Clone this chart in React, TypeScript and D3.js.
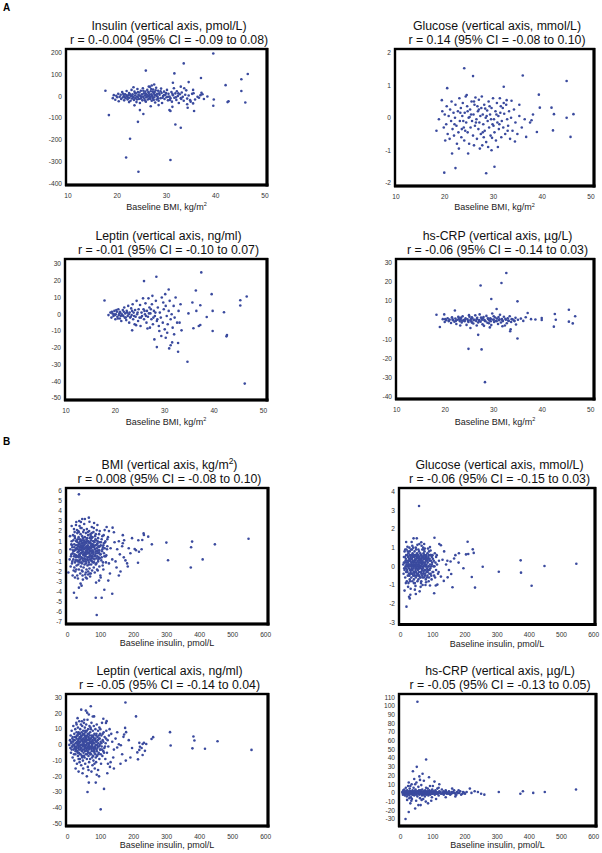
import React from "react";
import * as d3 from "d3";

type Pt = [number, number];

// ---------- tick labels ----------
const bmiTicks = [10, 20, 30, 40, 50];
const insulinTicks = [0, 100, 200, 300, 400, 500, 600];
const a1YTicks = [200, 100, 0, -100, -200, -300, -400];
const a2YTicks = [2, 1, 0, -1, -2];
const a3YTicks = [30, 20, 10, 0, -10, -20, -30, -40, -50];
const a4YTicks = [30, 20, 10, 0, -10, -20, -30, -40];
const b1YTicks = [6, 5, 4, 3, 2, 1, 0, -1, -2, -3, -4, -5, -6, -7];
const b2YTicks = [4, 3, 2, 1, 0, -1, -2, -3];
const b3YTicks = [30, 20, 10, 0, -10, -20, -30, -40, -50];
const b4YTicks = [110, 100, 90, 80, 70, 60, 50, 40, 30, 20, 10, 0, -10, -20, -30];

// ---------- data: [x, y] ----------
// A1: baseline BMI vs insulin change
const a1Points: Pt[] = [
  [17.6,26],[18.3,-86],[21.8,-281],[22.6,-195],[24.2,-117],[24.3,-347],[25.8,119],[30.8,-293],[31.6,106],[31.8,-129],[32.9,-144],[33.5,152],[34.5,66],[37.0,85],[39.5,198],[39.5,-43],[39.6,-14],[42.0,52],[42.4,-26],[42.6,-22],[45.2,79],[45.2,25],[46.0,-28],[46.5,103],[38.3,0],[35.4,30],[35.5,15],[36.9,6],[36.6,-6],[37.1,17],[35.4,-32],[35.6,-67],[34.3,-52],[34.8,-17],[31.3,63],[30.6,-63],[30.8,-67],[23.5,-41],[24.6,-63],[25.3,-81],[22.4,-26],[32.9,45],[33.6,38],[31.2,-48],[28.4,-40],[26.8,-45],[34.2,-36],
  [19.1,-8],[19.3,6],[19.6,-15],[19.8,3],[20.0,-4],[20.2,12],[20.3,-22],[20.5,-2],[20.7,8],[20.8,-12],[21.0,20],[21.1,-5],[21.3,2],[21.4,-18],[21.6,10],[21.7,-8],[21.9,25],[22.0,0],[22.1,-14],[22.3,6],[22.4,16],[22.5,-6],[22.7,-20],[22.8,2],[22.9,30],[23.0,-10],[23.1,10],[23.2,-2],[23.3,42],[23.4,-16],[23.5,22],[23.6,4],[23.7,-8],[23.8,14],[23.9,-26],[24.0,0],[24.1,34],[24.2,-4],[24.3,8],[24.4,-12],[24.5,18],[24.6,-30],[24.7,2],[24.8,26],[24.9,-6],[25.0,10],[25.1,-18],[25.2,38],[25.3,-2],[25.4,14],[25.5,-10],[25.6,4],[25.7,22],[25.8,-24],[25.9,-4],[26.0,8],[26.1,30],[26.2,-14],[26.3,2],[26.4,16],[26.5,-8],[26.6,44],[26.7,-2],[26.8,24],[26.9,10],[27.0,-20],[27.0,50],[27.1,4],[27.2,-10],[27.3,32],[27.4,14],[27.5,-4],[27.6,20],[27.7,-28],[27.8,6],[27.9,40],[28.0,-14],[28.1,12],[28.2,-2],[28.3,26],[28.4,-20],[28.6,8],[28.8,-8],[29.0,16],[29.1,-30],[29.3,2],[29.5,22],[29.6,-12],[29.8,8],[30.0,-4],[30.1,30],[30.3,-18],[30.4,12],[30.6,0],[30.8,-8],[31.0,20],[31.1,-24],[31.3,6],[31.5,38],[31.6,-6],[31.8,14],[32.0,-16],[32.1,24],[32.3,2],[32.5,-30],[32.7,10],[32.9,-8],[33.1,18],[33.3,-2],[33.5,-20],[33.8,8],[34.0,28],[34.2,-10],[34.5,4],[34.9,-24],[35.2,12],[35.8,-14],[36.3,-2],[37.3,10],[37.6,-12]
];
const a1Core: Pt[] = [
  [21.2,12],[21.5,-2],[21.9,5],[22.2,-6],[22.6,10],[23.0,2],[23.3,-5],[23.6,16],[24.0,-14],[24.2,20],[24.5,4],[24.8,-10],[25.0,0],[25.3,26],[25.6,-18],[25.8,12],[26.0,-2],[26.3,20],[26.5,6],[26.7,-12],[26.9,34],[27.1,-2],[27.2,22],[27.4,-16],[27.6,8],[27.8,28],[28.0,2],[28.3,-10],[28.5,14],[28.8,24],[29.2,-6],[29.5,6],[29.9,16],[30.3,-2],[30.7,-16],[31.2,12],[31.9,-4],[32.4,14],[33.0,-12],[26.4,46],[27.5,55],[28.9,36]
];

// A2: baseline BMI vs glucose change
const a2Points: Pt[] = [
  [24.0,1.52],[25.8,1.28],[20.5,0.91],[36.0,1.30],[32.1,0.95],[39.3,0.71],[39.5,0.31],[41.9,0.31],[42.4,0.11],[45.0,1.13],[45.0,0.0],[46.4,0.11],[45.8,-0.59],[42.2,-0.39],[38.9,-0.44],[36.7,-0.59],[18.3,-0.4],[19.4,0.54],[21.5,-1.1],[24.8,-1.1],[19.9,-1.69],[22.2,-1.55],[28.5,-1.71],[30.2,-1.51],[29.6,-1.0],[34.4,-0.73],[36.4,-0.05],[37.8,-0.08],[38.1,0.1],[35.3,0.4],[33.7,0.52],[32.7,0.54],[37.5,-0.15],[18.8,-0.05],
  [19.5,0.2],[19.8,-0.3],[20.0,0.1],[20.1,-0.7],[20.3,-0.2],[20.4,0.35],[20.6,-0.5],[20.8,0.05],[21.0,-0.65],[21.1,0.25],[21.3,-0.1],[21.4,0.5],[21.6,-0.35],[21.8,0.15],[21.9,-0.55],[22.1,0.0],[22.2,0.4],[22.4,-0.25],[22.5,-0.8],[22.7,0.2],[22.8,-0.45],[23.0,0.6],[23.1,-0.1],[23.3,0.3],[23.4,-0.6],[23.6,0.05],[23.7,0.45],[23.9,-0.3],[24.0,-0.7],[24.1,0.15],[24.3,0.65],[24.4,-0.15],[24.6,0.35],[24.7,-0.45],[24.9,0.0],[25.0,-0.8],[25.2,0.25],[25.3,-0.3],[25.5,0.5],[25.6,-0.1],[25.8,-0.55],[25.9,0.1],[26.1,0.4],[26.2,-0.25],[26.3,0.62],[26.5,-0.05],[26.6,-0.65],[26.8,0.2],[26.9,-0.35],[27.0,0.55],[27.1,-0.15],[27.3,0.05],[27.4,-0.5],[27.5,0.3],[27.7,-0.85],[27.8,0.1],[27.9,-0.2],[28.1,0.4],[28.2,-0.4],[28.4,0.0],[28.5,-0.75],[28.7,0.22],[28.8,-0.1],[29.0,0.5],[29.1,-0.3],[29.3,0.1],[29.4,-0.55],[29.6,0.3],[29.8,-0.2],[29.9,0.6],[30.1,-0.05],[30.2,-0.45],[30.4,0.2],[30.5,-0.7],[30.7,0.45],[30.8,-0.15],[31.0,0.05],[31.1,-0.35],[31.3,0.6],[31.4,0.15],[31.6,-0.6],[31.7,-0.1],[31.9,0.3],[32.0,-0.3],[32.2,0.12],[32.4,-0.5],[32.6,0.4],[32.8,-0.05],[33.0,-0.25],[33.2,0.2],[33.4,-0.65],[33.6,0.0],[33.9,-0.4],[34.2,0.25],[34.5,-0.15],[34.9,-0.5],[35.3,0.05],[35.8,-0.3],[26.0,-0.85],[27.2,-0.95],[28.9,-0.9],[24.5,0.7],[22.9,-0.95],[30.9,-0.9],[27.6,0.65],[25.1,0.02],[26.7,0.35],[28.3,0.28],[23.5,-0.35],[29.7,-0.62]
];
const a2Core: Pt[] = [
  [22.0,-0.2],[23.2,0.15],[24.2,-0.4],[25.4,0.1],[26.4,-0.15],[27.0,0.25],[27.8,-0.45],[28.6,0.05],[29.2,0.35],[30.0,-0.25],[30.6,0.1],[31.2,-0.2],[32.1,0.45],[32.9,-0.4],[26.0,0.5],[28.0,-0.6],[29.5,-0.05],[31.5,0.35],[24.7,0.2],[23.8,-0.1]
];

// A3: baseline BMI vs leptin change
const a3Points: Pt[] = [
  [17.8,8.2],[25.8,19.8],[28.3,22.4],[37.4,25],[36.3,14.2],[30.8,14.8],[39.5,12],[42.0,1.2],[45.3,8.4],[45.3,5.2],[46.6,10.6],[39.7,2],[39.7,-10],[42.6,-12.4],[42.5,-13.2],[27.9,-15],[28.4,-19.6],[30.9,-20.4],[31.5,-16.8],[32.7,-17.2],[32.7,-22.4],[34.6,-28.4],[29.3,-13],[33.4,-9.6],[37.2,-6.4],[36.9,-7],[35.8,-8.4],[38.5,-1.6],[36.4,2],[37.2,5.4],[35.6,7],[23.4,-9.6],[46.2,-41.4],[31.2,-18.5],[30.2,-14],[33.0,-5],[34.8,0.5],
  [18.6,-0.5],[19.0,1],[19.2,-2],[19.4,0.5],[19.6,-1],[19.8,2],[20.0,-3],[20.1,0],[20.3,1.5],[20.4,-1.5],[20.6,3],[20.7,-0.5],[20.9,-2.5],[21.0,1],[21.2,-4],[21.3,0],[21.5,2.5],[21.6,-1],[21.8,4],[21.9,-2],[22.0,0.5],[22.2,-3.5],[22.3,2],[22.5,-1],[22.6,5],[22.8,-5],[22.9,1],[23.0,-2],[23.2,3.5],[23.3,-0.5],[23.5,6],[23.6,-3],[23.7,1],[23.9,-6],[24.0,2.5],[24.1,-1.5],[24.3,8],[24.4,0],[24.6,-4],[24.7,3],[24.9,-2],[25.0,5.5],[25.1,-7],[25.3,1],[25.4,-1],[25.6,9.5],[25.7,3],[25.8,-3],[26.0,0],[26.1,6.5],[26.3,-5],[26.4,2],[26.6,-1.5],[26.7,9.5],[26.9,4],[27.0,-8],[27.1,0.5],[27.3,-3],[27.4,6],[27.6,-6],[27.8,2],[28.0,-1],[28.2,8],[28.4,-4],[28.6,4],[28.8,-7],[29.0,1],[29.2,-2],[29.4,10],[29.6,-5],[29.8,3],[30.0,-9],[30.2,5],[30.4,-1],[30.6,-6],[30.8,2],[31.0,8],[31.2,-3],[31.4,0],[31.6,-8],[31.8,5],[32.0,-2],[32.2,10],[32.5,-5],[32.8,2],[33.2,6],[28.9,-10],[30.5,-11],[31.9,-12],[26.5,-8.5],[24.2,-6.5],[29.7,7],[27.5,11],[30.1,12],[20.5,-2.5],[21.4,-0.5],[22.4,1],[23.1,-1.5],[19.7,0],[20.9,1.5]
];
const a3Core: Pt[] = [
  [19.3,1.5],[19.9,-0.5],[20.2,2.5],[20.8,0.5],[21.1,-1],[21.7,1.5],[22.1,-2],[22.7,0],[23.4,2],[23.8,-1],[24.5,1],[25.2,-2],[25.9,2],[26.2,-1],[26.8,0.5],[27.2,3],[27.7,-2],[28.1,1],[28.5,-3]
];

// A4: baseline BMI vs hs-CRP change
const a4Points: Pt[] = [
  [18.2,2.8],[18.9,-3.6],[19.8,3.0],[22.0,5.0],[27.3,18.1],[31.6,19.4],[32.6,24.6],[29.5,11],[30.6,5.8],[34.9,9.8],[34.9,-9.6],[26.8,-7.7],[24.8,-15],[27.5,-15.3],[33.4,-5.8],[33.5,-4.8],[25.2,-4.1],[37.0,3.7],[36.6,1.5],[39.9,1.1],[39.9,0.1],[42.6,3.2],[42.8,0.2],[42.4,-3.4],[45.5,5.4],[45.5,-0.8],[46.3,-1.7],[46.8,2.0],[37.7,0.5],[38.6,0.3],[28.2,-32.4],[35.6,0.8],[34.6,-2.3],[36.1,-0.4],
  [19.5,0.5],[19.9,-1],[20.2,0],[20.5,1],[20.7,-0.5],[20.9,0.3],[21.2,-1.5],[21.4,1.5],[21.6,0],[21.9,-0.8],[22.1,0.8],[22.3,-2],[22.5,0.2],[22.8,1.2],[23.0,-0.5],[23.2,0.6],[23.4,-1.2],[23.6,2],[23.8,0],[24.0,-0.6],[24.2,1],[24.4,-2.5],[24.6,0.4],[24.8,-1],[25.0,1.8],[25.2,0],[25.4,-0.7],[25.6,0.9],[25.8,-1.8],[26.0,0.2],[26.2,2.5],[26.4,-0.4],[26.6,1.2],[26.8,-1.2],[27.0,0.1],[27.1,3],[27.3,-0.8],[27.5,0.7],[27.7,-2.2],[27.9,1.6],[28.1,0],[28.3,-0.6],[28.5,2.2],[28.7,-1.4],[28.9,0.5],[29.1,-0.2],[29.3,1],[29.5,-2.6],[29.7,3.5],[29.9,0.3],[30.1,-1],[30.3,1.4],[30.5,-0.3],[30.7,0.8],[30.9,-2],[31.1,0],[31.3,2.8],[31.5,-1.2],[31.7,0.6],[31.9,-0.5],[32.1,1.8],[32.3,-2.8],[32.5,0.2],[32.7,-1.6],[32.9,1],[33.1,-0.4],[33.3,2],[33.6,-1],[33.9,0.4],[34.2,-0.2],[34.5,1.2],[26.5,-2.8],[28.0,-3],[30.0,2],[24.9,2.6],[23.1,-2.8],[31.8,-3.2],[29.2,-3.8],[22.7,1.8],[25.5,1.5],[27.8,0.9],[29.4,0.6]
];
const a4Core: Pt[] = [
  [20.0,0.5],[20.8,-0.3],[21.5,0.6],[22.2,-0.4],[22.9,0.3],[23.5,-0.3],[24.1,0.2],[24.7,-0.5],[25.3,0.6],[25.9,0],[26.5,0.5],[27.0,-0.4],[27.6,0.2],[28.2,-0.3],[28.8,0.9],[29.4,-0.6],[30.0,0.1],[30.6,-0.6],[31.2,0.4],[31.8,-0.1],[32.4,0.7],[33.0,-0.2],[33.7,0.5],[34.3,-0.5],[35.0,0.2],[25.5,-1.3],[27.4,1.4],[29.0,-1.6],[31.0,1.6],[23.3,1.3]
];

// B1: baseline insulin vs BMI change
const b1Points: Pt[] = [
  [34,5.64],[44,3.2],[64,3.33],[66,2.93],[136,2.34],[125,2.0],[167,1.6],[230,1.77],[244,1.45],[214,1.1],[255,0.69],[299,0.86],[377,0.96],[446,0.69],[548,1.25],[374,0.4],[207,0.1],[216,-0.05],[224,0.2],[304,-0.89],[409,-0.8],[373,-1.6],[226,1.12],[231,1.61],[203,0.23],[213,-1.13],[180,-1.2],[182,-1.5],[170,-0.6],[167,0.8],[171,1.1],[140,1.88],[86,-3.1],[95,-2.9],[123,-2.9],[155,-2.4],[111,-3.8],[135,-4.2],[85,-4.6],[103,-4.6],[88,-6.3],[19,-4.1],[27,-4.6],[39,-3.2],[34,-3.6],[42,-3.4],[55,-2.6],[62,-2.3],[70,-2.2],[2,-2.1],
  [105,1.5],[110,0.8],[115,-0.5],[120,1.2],[125,-1.2],[130,0.3],[135,-0.8],[142,0.9],[148,-1.6],[150,0.2],[155,1.0],[158,-0.3],[160,-2.0],[165,0.5],[175,-0.9],[185,0.3],[190,-0.2],[195,1.3],[118,2.4],[108,-1.8],[128,-2.2],[112,2.1],[145,-1.0],[100,-2.6],[90,2.6],[80,2.8],
  [8,0.2],[10,-0.5],[12,1.0],[13,-1.2],[14,0.4],[15,-0.2],[16,1.6],[17,-0.8],[18,0.0],[19,2.2],[20,-1.6],[20,0.7],[21,-0.3],[22,1.3],[23,-2.0],[23,0.1],[24,-0.9],[25,0.6],[25,2.6],[26,-0.4],[27,1.1],[27,-1.4],[28,0.3],[29,-2.4],[29,1.8],[30,-0.1],[30,0.9],[31,-1.0],[32,0.5],[32,2.0],[33,-0.6],[33,1.4],[34,-1.8],[34,0.0],[35,0.8],[35,-0.3],[36,2.5],[36,-1.1],[37,0.2],[37,1.2],[38,-0.8],[38,-2.2],[39,0.6],[39,1.7],[40,-0.2],[40,-1.5],[41,1.0],[41,0.1],[42,-0.6],[42,2.3],[43,0.4],[43,-1.2],[44,1.5],[44,-0.1],[45,-2.0],[45,0.8],[46,0.0],[46,-0.9],[47,1.9],[47,0.5],[48,-0.4],[48,-1.6],[49,1.1],[49,0.2],[50,-0.7],[50,2.7],[51,0.7],[51,-1.3],[52,-0.2],[52,1.4],[53,0.3],[53,-2.3],[54,-0.5],[54,0.9],[55,1.8],[55,-1.0],[56,0.1],[56,-0.3],[57,1.2],[57,-1.8],[58,0.5],[58,2.2],[59,-0.8],[59,0.0],[60,1.0],[60,-1.4],[61,-0.2],[61,0.6],[62,1.6],[62,-2.0],[63,0.2],[63,-0.6],[64,-1.1],[64,0.9],[65,2.0],[65,-0.1],[66,0.4],[66,-1.7],[67,1.3],[67,-0.4],[68,0.0],[68,-2.5],[69,0.8],[69,1.7],[70,-0.9],[70,0.3],[71,-1.3],[71,1.1],[72,0.5],[72,-0.2],[73,2.4],[73,-0.7],[74,0.1],[74,-1.9],[75,1.4],[75,-0.5],[76,0.7],[77,-1.1],[77,0.0],[78,1.9],[78,-0.3],[79,-1.6],[80,0.4],[80,1.0],[81,-0.8],[82,0.2],[82,-2.1],[83,1.5],[84,-0.4],[84,0.6],[85,-1.3],[86,1.1],[86,0.0],[87,-0.7],[88,2.1],[88,0.3],[89,-1.8],[90,0.8],[91,-0.2],[92,1.3],[92,-1.0],[93,0.5],[94,-0.6],[95,1.7],[96,-1.5],[96,0.1],[97,0.9],[98,-0.3],[99,-2.4],[100,0.6],[102,-0.9],[103,1.2],[104,0.0],[106,-1.4],[107,0.4],[109,1.6],[111,-0.5],[113,0.9],[116,-1.1],[119,0.2],[122,1.4],[18,-1.9],[22,-2.6],[28,2.1],[31,-2.7],[35,3.0],[40,2.9],[46,-2.8],[52,3.2],[58,-2.7],[26,2.9],[15,-2.4],[12,2.5],[6,-0.8],[7,1.5],[9,-1.5],[11,0.7],[44,0.6],[48,0.9],[54,-0.1],[57,0.4],[62,0.2],[66,-0.6],[70,1.5],[74,0.7],[78,0.6],[36,-0.4],[38,0.4],[42,0.8],[50,-0.2],[56,1.0],[60,0.3],[64,-0.2],[68,0.9],[72,-0.5],[76,-0.1]
];
const b1Core: Pt[] = [
  [11,-0.3],[13,0.6],[14,-1.0],[16,0.1],[17,1.1],[19,-0.5],[20,0.4],[21,1.5],[22,-1.1],[24,0.2],[25,-0.6],[26,1.0],[27,0.3],[28,-0.9],[29,0.6],[30,-0.5],[31,1.2],[31,0.2],[32,-1.3],[33,0.0],[34,0.7],[35,-0.9],[36,0.4],[37,-0.5],[38,1.0],[39,-0.2],[40,0.5],[41,-1.1],[42,0.2],[43,1.1],[44,-0.7],[45,0.3],[46,1.3],[47,-0.3],[48,0.3],[49,-1.0],[50,0.6],[51,-0.4],[52,0.9],[53,-0.8],[54,0.4],[55,0.0],[56,-1.2],[57,0.8],[58,-0.2],[59,1.3],[60,-0.6],[61,0.2],[62,-0.9],[63,1.0],[64,0.4],[65,-1.3],[66,0.8],[67,0.1],[68,-0.8],[69,0.3],[70,-0.4],[71,0.6],[72,1.3],[73,0.0],[74,-1.0],[75,0.4],[76,-0.7],[77,1.0],[78,-0.1],[79,0.5],[80,-1.1],[81,0.9],[82,-0.5],[83,0.2],[84,1.2],[85,-0.2],[86,0.6],[87,-1.2],[88,0.0],[89,0.7],[90,-0.5],[91,1.0],[92,0.1],[93,-0.8],[94,0.4],[95,-0.1],[97,-0.7],[98,0.5],[100,-0.3],[101,0.9],[103,-0.6],[105,0.2],[107,-1.1],[108,0.6],[110,-0.2],[112,0.3],[114,1.0],[117,-0.4],[120,0.5],[26,-1.8],[34,1.9],[43,-1.9],[49,2.1],[55,-2.1],[61,1.9],[67,-2.2],[73,1.8],[79,2.3],[85,1.7],[91,-1.9],[97,2.0],[39,2.3],[45,-2.4],[21,1.9]
];

// B2: baseline insulin vs glucose change
const b2Points: Pt[] = [
  [57,3.23],[40,1.5],[105,1.53],[64,1.29],[125,1.13],[91,1.03],[208,1.32],[224,0.91],[227,0.72],[210,0.66],[203,0.64],[181,0.7],[170,0.6],[166,0.42],[155,0.26],[255,-0.02],[373,0.32],[447,0.02],[546,0.14],[120,1.2],[305,-0.29],[374,-0.34],[221,-0.57],[407,-1.04],[231,-1.14],[161,-1.12],[134,-0.78],[146,-0.59],[157,-0.41],[104,-1.44],[109,-1.03],[114,-0.98],[91,-1.03],[59,-1.34],[47,-1.48],[30,-1.52],[26,-1.63],[28,-1.72],[18,-2.16],[141,0.1],[150,-0.2],[130,0.35],[118,-0.3],[135,0.8],[112,0.6],[125,-0.55],[145,0.3],[180,0.2],[195,-0.1],
  [8,0.1],[9,-0.4],[10,0.5],[11,-0.1],[12,0.8],[13,0.2],[14,-0.6],[15,0.0],[16,0.4],[17,-0.3],[18,0.9],[18,0.1],[19,-0.8],[20,0.3],[20,-0.2],[21,0.6],[22,-0.5],[22,0.0],[23,0.2],[24,-0.9],[24,0.7],[25,-0.1],[26,0.4],[26,-0.4],[27,0.1],[28,0.8],[28,-0.7],[29,-0.2],[30,0.3],[30,0.5],[31,-0.3],[32,0.0],[32,0.9],[33,-0.6],[33,0.2],[34,0.6],[34,-0.1],[35,-0.4],[35,0.4],[36,0.1],[36,-0.8],[37,0.7],[37,-0.2],[38,0.3],[38,0.0],[39,-0.5],[39,1.0],[40,0.2],[40,-0.1],[41,0.5],[41,-0.7],[42,-0.3],[42,0.1],[43,0.8],[43,-0.4],[44,0.3],[44,-0.9],[45,0.0],[45,0.6],[46,-0.2],[46,0.4],[47,-0.6],[47,0.1],[48,0.9],[48,-0.3],[49,0.2],[49,-0.1],[50,0.5],[50,-0.5],[51,0.0],[51,0.7],[52,-0.8],[52,0.3],[53,-0.2],[53,0.1],[54,0.6],[54,-0.4],[55,0.2],[55,-0.7],[56,0.4],[56,0.0],[57,-0.3],[57,0.8],[58,0.1],[58,-0.5],[59,0.5],[60,-0.1],[60,0.3],[61,-0.6],[61,0.7],[62,0.0],[63,-0.3],[63,0.4],[64,0.2],[64,-0.8],[65,0.6],[66,-0.2],[66,0.1],[67,0.9],[67,-0.5],[68,0.3],[69,-0.1],[69,0.5],[70,-0.4],[70,0.0],[71,0.7],[72,-0.6],[72,0.2],[73,0.4],[74,-0.2],[74,0.8],[75,0.1],[76,-0.4],[76,0.5],[77,0.0],[78,-0.7],[78,0.3],[79,0.6],[80,-0.3],[80,0.1],[81,0.4],[82,-0.1],[83,0.7],[83,-0.5],[84,0.2],[85,-0.2],[86,0.5],[87,0.0],[88,-0.6],[88,0.8],[89,0.3],[90,-0.2],[91,0.1],[92,0.6],[93,-0.4],[94,0.3],[95,0.0],[96,-0.7],[97,0.5],[98,0.2],[99,-0.3],[100,0.4],[102,0.0],[104,-0.5],[106,0.7],[108,0.2],[110,-0.2],[14,0.9],[16,-0.9],[21,1.05],[23,-1.1],[27,1.0],[31,-1.2],[36,1.1],[44,-1.25],[52,1.15],[62,-1.1],[70,1.0],[77,-1.0],[85,0.95],[12,-1.3],[17,1.3],[34,1.3],[50,1.5],[65,1.1],[73,1.2],[45,0.35],[53,0.45],[59,-0.05],[65,0.15],[71,-0.25],[37,0.25],[41,0.0],[47,0.55],[55,-0.15],[62,0.35]
];
const b2Core: Pt[] = [
  [10,0.2],[12,-0.2],[13,0.5],[15,0.3],[16,-0.1],[17,0.6],[19,0.2],[20,0.0],[21,-0.3],[23,0.5],[24,0.1],[25,0.3],[26,0.0],[27,-0.5],[28,0.3],[29,0.6],[30,-0.4],[31,0.1],[32,0.4],[33,-0.2],[34,0.2],[35,0.0],[36,0.5],[37,-0.4],[38,0.6],[39,0.1],[40,-0.3],[41,0.3],[42,0.6],[43,0.0],[44,-0.5],[45,0.2],[46,0.0],[47,0.4],[48,-0.1],[49,0.6],[50,0.1],[51,-0.4],[52,0.5],[53,0.3],[54,-0.1],[55,0.5],[56,-0.5],[57,0.2],[58,0.4],[59,0.0],[60,-0.6],[61,0.2],[62,0.6],[63,0.0],[64,-0.4],[65,0.3],[66,0.5],[67,-0.1],[68,-0.6],[69,0.2],[70,0.4],[71,-0.3],[72,0.0],[73,0.6],[74,0.1],[75,-0.5],[76,0.2],[77,0.4],[78,-0.2],[79,0.0],[80,0.5],[81,-0.6],[82,0.3],[84,-0.3],[85,0.4],[86,0.0],[87,0.6],[89,-0.4],[90,0.4],[92,-0.1],[94,0.6],[95,-0.5],[97,0.1],[99,0.6],[101,-0.3],[103,0.3],[105,0.0],[107,-0.6],[110,0.5],[113,0.1],[116,-0.4],[119,0.3],[22,0.8],[29,-0.8],[35,0.9],[41,-0.9],[47,1.0],[55,0.9],[63,-0.9],[71,0.9],[79,-0.85],[87,-0.8],[93,0.85],[58,1.2],[46,-1.05],[68,-1.0],[75,0.95]
];

// B3: baseline insulin vs leptin change
const b3Points: Pt[] = [
  [175,26.9],[207,18.1],[41,22.4],[70,24.6],[55,21.8],[59,20.5],[64,19.3],[80,18.1],[108,16.6],[118,15.1],[116,13.9],[174,10.8],[177,8.1],[171,6.6],[169,5.1],[310,8.1],[312,-0.4],[381,5.3],[384,2.8],[378,-2.2],[416,-2.5],[454,2.3],[557,-3.2],[217,1.3],[227,0.6],[231,1.3],[219,-1.2],[224,-2.0],[254,3.7],[259,4.9],[155,0.4],[161,-0.2],[150,-1.7],[211,-4.8],[217,-3.2],[227,-6.4],[234,-3.8],[213,-9.2],[238,0.6],[176,-10],[100,-41],[110,-28],[85,-24],[120,-18],[140,-15],[60,-30],[95,-20],[160,-12],[190,-8],[130,-11],
  [5,0],[7,3],[8,-2],[9,6],[10,-5],[11,1],[12,9],[13,-1],[14,4],[15,-8],[16,2],[17,12],[18,-3],[19,0],[20,7],[20,-10],[21,3],[22,-1],[23,10],[23,-6],[24,1],[25,5],[25,-3],[26,14],[27,-1],[27,8],[28,-12],[28,2],[29,-4],[30,6],[30,0],[31,11],[31,-7],[32,3],[32,-2],[33,-9],[33,8],[34,1],[34,-5],[35,4],[35,15],[36,-1],[36,-11],[37,7],[37,2],[38,-3],[38,10],[39,0],[39,-6],[40,5],[40,13],[41,-2],[41,-13],[42,3],[42,8],[43,-4],[43,0],[44,12],[44,-8],[45,2],[45,6],[46,-1],[46,-10],[47,9],[47,4],[48,-5],[48,1],[49,14],[49,-3],[50,7],[50,0],[51,-8],[51,3],[52,11],[52,-2],[53,5],[53,-12],[54,-1],[54,8],[55,2],[55,-6],[56,13],[56,4],[57,-3],[57,0],[58,9],[58,-9],[59,1],[59,6],[60,-4],[60,16],[61,3],[61,-14],[62,-1],[62,10],[63,5],[63,-7],[64,0],[64,7],[65,-2],[65,-11],[66,12],[66,3],[67,-5],[67,1],[68,8],[68,-9],[69,4],[70,-1],[70,10],[71,-6],[71,2],[72,14],[72,-3],[73,6],[74,-8],[74,0],[75,3],[75,-13],[76,9],[77,-2],[77,5],[78,-10],[78,1],[79,12],[80,-4],[80,4],[81,7],[82,-1],[82,-15],[83,3],[84,10],[84,-6],[85,0],[86,6],[86,-11],[87,-3],[88,2],[88,13],[89,-7],[90,5],[91,-1],[92,9],[92,-16],[93,1],[94,-5],[95,4],[96,11],[96,-9],[97,0],[98,7],[99,-3],[100,2],[101,-12],[102,6],[103,-1],[104,14],[105,-7],[106,3],[108,-4],[109,8],[111,-2],[112,5],[114,-9],[115,1],[117,9],[119,-5],[121,3],[123,-1],[125,6],[128,-14],[135,2],[140,-3],[145,4],[150,8],[165,-6],[185,3],[195,-2],[122,-12],[127,10],[132,7],[138,-8],[24,-15],[33,-17],[45,-18],[58,-20],[72,-17],[88,-19],[64,-24],[50,16],[30,17],[76,18]
];
const b3Core: Pt[] = [
  [10,2],[12,-3],[14,-1],[15,5],[17,0],[18,3],[19,-6],[21,-2],[22,5],[24,-4],[25,1],[26,-2],[27,4],[28,6],[29,1],[30,-5],[31,2],[32,7],[33,0],[34,-3],[35,-1],[36,5],[37,-6],[38,2],[39,4],[40,-2],[41,6],[42,0],[43,-7],[44,3],[45,-3],[46,7],[47,0],[48,4],[49,-7],[50,2],[51,-1],[52,6],[53,-4],[54,3],[55,-2],[56,0],[57,5],[58,-6],[59,-2],[60,3],[61,7],[62,-5],[63,1],[64,-3],[65,4],[66,-1],[67,6],[68,2],[69,-6],[70,4],[71,-2],[72,1],[73,-4],[74,5],[75,-1],[76,2],[77,-7],[78,6],[79,-3],[80,1],[81,-5],[82,3],[83,-2],[84,4],[85,-8],[86,2],[87,7],[88,-4],[89,0],[90,-2],[91,3],[93,-6],[94,6],[95,-1],[97,4],[98,-3],[100,-6],[102,1],[104,-3],[106,7],[108,2],[110,-5],[113,-1],[116,4],[37,-9],[53,9],[69,11],[43,15],[63,-16],[81,-12],[99,10],[27,13],[47,-15]
];

// B4: baseline insulin vs hs-CRP change
const b4Points: Pt[] = [
  [52,104.9],[79,38.5],[50,30],[305,1],[372,-1],[380,2],[412,0],[448,1],[545,4],[230,2],[260,-2],[215,5],[200,-1],[180,3],[170,-4],
  [5,1],[7,-2],[8,3],[9,0],[10,-1],[11,4],[12,1],[13,-3],[14,2],[15,0],[16,6],[17,-1],[18,1],[19,-4],[20,3],[21,0],[22,-2],[23,8],[24,1],[25,-1],[26,2],[27,-3],[28,5],[29,0],[30,-1],[31,2],[32,-5],[33,1],[34,10],[35,0],[36,-2],[37,3],[38,1],[39,-1],[40,6],[41,0],[42,-3],[43,2],[44,0],[45,-1],[46,4],[47,1],[48,-2],[49,12],[50,0],[51,2],[52,-4],[53,1],[54,-1],[55,7],[56,0],[57,3],[58,-2],[59,1],[60,-6],[61,2],[62,0],[63,-1],[64,9],[65,1],[66,-3],[67,4],[68,0],[69,-1],[70,2],[71,-2],[72,14],[73,1],[74,0],[75,-4],[76,3],[77,-1],[78,1],[79,6],[80,-2],[81,0],[82,2],[83,-1],[84,5],[85,0],[86,-3],[87,1],[88,-1],[89,3],[90,0],[91,8],[92,-2],[93,1],[94,-1],[95,2],[96,0],[97,-5],[98,4],[99,1],[100,-1],[102,2],[104,0],[106,-2],[108,3],[110,1],[112,-1],[114,5],[116,0],[118,-3],[120,2],[122,1],[125,-1],[128,4],[131,0],[134,-2],[137,1],[140,3],[143,-1],[146,0],[150,2],[154,-2],[158,1],[162,0],[166,3],[170,-1],[175,1],[182,0],[188,-2],[194,1],[20,-8],[35,-7],[48,-9],[65,-8],[78,-10],[95,-9],[110,-7],[25,12],[42,16],[58,19],[68,22],[88,18],[105,13],[38,25],[120,10],[15,-30],[25,-22],[45,-18],[62,-14],[30,-12]
];
const b4Core: Pt[] = [
  [6,0],[8,1],[10,1],[12,-1],[14,0],[16,-1],[18,2],[20,0],[22,1],[24,-1],[26,0],[28,1],[30,2],[32,0],[34,-1],[36,1],[38,-2],[40,0],[42,1],[44,2],[46,-1],[48,0],[50,1],[52,2],[54,0],[56,-1],[58,1],[60,0],[62,3],[64,-1],[66,0],[68,1],[70,-1],[72,0],[74,2],[76,-1],[78,0],[80,1],[82,-1],[84,0],[86,2],[88,0],[90,-1],[92,1],[94,0],[96,2],[98,-1],[100,0],[103,1],[106,0],[109,-1],[112,1],[115,-1],[119,0],[124,1],[129,-1],[133,2],[138,0],[142,1],[148,-1],[152,0],[157,-1],[163,1],[168,0],[173,-2],[178,0],[185,2],[192,-1],[198,0],[205,1],[220,0],[240,1],[250,-1],[27,-6],[33,-9],[55,-14],[70,-7],[85,-12],[100,8],[45,10],[60,15],[30,8],[118,6],[140,-5],[160,5]
];

// ---------- layout ----------
type Box = { l: number; r: number; t: number; b: number };
type PanelCfg = {
  box: Box;
  xDomain: [number, number];
  xRange: [number, number];
  yDomain: [number, number];
  yRange: [number, number];
  xTicks: number[];
  yTicks: number[];
  data: Pt[];
  title1: React.ReactNode;
  title2: string;
  xLabel: React.ReactNode;
  xLabelDy: number;
};

const bmiLabel = (
  <>
    Baseline BMI, kg/m<tspan dy={-3.5} fontSize={5.5}>2</tspan>
  </>
);
const insLabel = "Baseline insulin, pmol/L";

const panels: PanelCfg[] = [
  {
    box: { l: 66, r: 267, t: 49, b: 185 },
    xDomain: [10, 50], xRange: [68, 265],
    yDomain: [-400, 200], yRange: [183.3, 53],
    xTicks: bmiTicks, yTicks: a1YTicks, data: a1Points.concat(a1Core),
    title1: "Insulin (vertical axis, pmol/L)",
    title2: "r = 0.-0.004 (95% CI = -0.09 to 0.08)",
    xLabel: bmiLabel, xLabelDy: 24.5,
  },
  {
    box: { l: 395, r: 594, t: 49, b: 186 },
    xDomain: [10, 50], xRange: [396, 591],
    yDomain: [-2, 2], yRange: [182.7, 52.7],
    xTicks: bmiTicks, yTicks: a2YTicks, data: a2Points.concat(a2Core),
    title1: "Glucose (vertical axis, mmol/L)",
    title2: "r = 0.14 (95% CI = -0.08 to 0.10)",
    xLabel: bmiLabel, xLabelDy: 24,
  },
  {
    box: { l: 65, r: 267, t: 259, b: 400 },
    xDomain: [10, 50], xRange: [66, 263.5],
    yDomain: [-50, 30], yRange: [398, 264],
    xTicks: bmiTicks, yTicks: a3YTicks, data: a3Points.concat(a3Core),
    title1: "Leptin (vertical axis, ng/ml)",
    title2: "r = -0.01 (95% CI = -0.10 to 0.07)",
    xLabel: bmiLabel, xLabelDy: 24.5,
  },
  {
    box: { l: 396, r: 594, t: 259, b: 399 },
    xDomain: [10, 50], xRange: [396.7, 590.7],
    yDomain: [-40, 30], yRange: [396.7, 262.7],
    xTicks: bmiTicks, yTicks: a4YTicks, data: a4Points.concat(a4Core),
    title1: "hs-CRP (vertical axis, µg/L)",
    title2: "r = -0.06 (95% CI = -0.14 to 0.03)",
    xLabel: bmiLabel, xLabelDy: 25.5,
  },
  {
    box: { l: 66, r: 268, t: 488, b: 624 },
    xDomain: [0, 600], xRange: [67.7, 265.7],
    yDomain: [-7, 6], yRange: [622, 490.7],
    xTicks: insulinTicks, yTicks: b1YTicks, data: b1Points.concat(b1Core),
    title1: (
      <>
        BMI (vertical axis, kg/m<tspan dy={-4.5} fontSize={8.5}>2</tspan>
        <tspan dy={4.5}>)</tspan>
      </>
    ),
    title2: "r = 0.008 (95% CI = -0.08 to 0.10)",
    xLabel: insLabel, xLabelDy: 22,
  },
  {
    box: { l: 399, r: 595, t: 488, b: 624.5 },
    xDomain: [0, 600], xRange: [400.7, 593.7],
    yDomain: [-3, 4], yRange: [622.3, 491.7],
    xTicks: insulinTicks, yTicks: b2YTicks, data: b2Points.concat(b2Core),
    title1: "Glucose (vertical axis, mmol/L)",
    title2: "r = -0.06 (95% CI = -0.15 to 0.03)",
    xLabel: insLabel, xLabelDy: 22,
  },
  {
    box: { l: 66, r: 268, t: 694, b: 826 },
    xDomain: [0, 600], xRange: [67.7, 265.7],
    yDomain: [-50, 30], yRange: [823.5, 697.7],
    xTicks: insulinTicks, yTicks: b3YTicks, data: b3Points.concat(b3Core),
    title1: "Leptin (vertical axis, ng/ml)",
    title2: "r = -0.05 (95% CI = -0.14 to 0.04)",
    xLabel: insLabel, xLabelDy: 22,
  },
  {
    box: { l: 399, r: 596, t: 694, b: 826 },
    xDomain: [0, 600], xRange: [400.7, 593.7],
    yDomain: [-30, 110], yRange: [819, 697.3],
    xTicks: insulinTicks, yTicks: b4YTicks, data: b4Points.concat(b4Core),
    title1: "hs-CRP (vertical axis, µg/L)",
    title2: "r = -0.05 (95% CI = -0.13 to 0.05)",
    xLabel: insLabel, xLabelDy: 22,
  },
];

const DOT = "#3a4a9e";
const FONT = "'Liberation Sans', Arial, Helvetica, sans-serif";

function Panel({ p }: { p: PanelCfg }) {
  const x = d3.scaleLinear().domain(p.xDomain).range(p.xRange);
  const y = d3.scaleLinear().domain(p.yDomain).range(p.yRange);
  const { l, r, t, b } = p.box;
  const cx = (l + r) / 2;
  return (
    <g fontFamily={FONT}>
      <text x={cx + 2.5} y={t - 19.5} textAnchor="middle" fontSize={12.3} fill="#111">
        {p.title1}
      </text>
      <text x={cx + 2.5} y={t - 5.5} textAnchor="middle" fontSize={12.3} fill="#111">
        {p.title2}
      </text>
      {p.data.map(([a, v], i) => (
        <circle key={i} cx={x(a)} cy={y(v)} r={1.3} fill={DOT} />
      ))}
      <rect x={l} y={t} width={r - l} height={b - t} fill="none" stroke="#000" strokeWidth={2.4} />
      <line x1={r} x2={r} y1={t - 1} y2={b + 1.5} stroke="#000" strokeWidth={3} />
      <line x1={l - 1} x2={r + 1.5} y1={b} y2={b} stroke="#000" strokeWidth={2.8} />
      {p.yTicks.map((v) => (
        <text key={"y" + v} x={l - 4} y={y(v)} dy="0.35em" textAnchor="end" fontSize={6.6} fill="#333">
          {v}
        </text>
      ))}
      {p.xTicks.map((v) => (
        <text key={"x" + v} x={x(v)} y={b + 10.5} dy="0.35em" textAnchor="middle" fontSize={6.6} fill="#333">
          {v}
        </text>
      ))}
      <text x={cx} y={b + p.xLabelDy} textAnchor="middle" fontSize={9} fill="#222">
        {p.xLabel}
      </text>
    </g>
  );
}

export default function App() {
  return (
    <svg
      width={602}
      height={853}
      viewBox="0 0 602 853"
      style={{ position: "absolute", left: 0, top: 0, background: "#fff" }}
    >
      <rect x={0} y={0} width={602} height={853} fill="#fff" />
      <text x={3} y={10.5} fontFamily={FONT} fontWeight="bold" fontSize={10}>A</text>
      <text x={3} y={445} fontFamily={FONT} fontWeight="bold" fontSize={10}>B</text>
      {panels.map((p, i) => (
        <Panel key={i} p={p} />
      ))}
    </svg>
  );
}
